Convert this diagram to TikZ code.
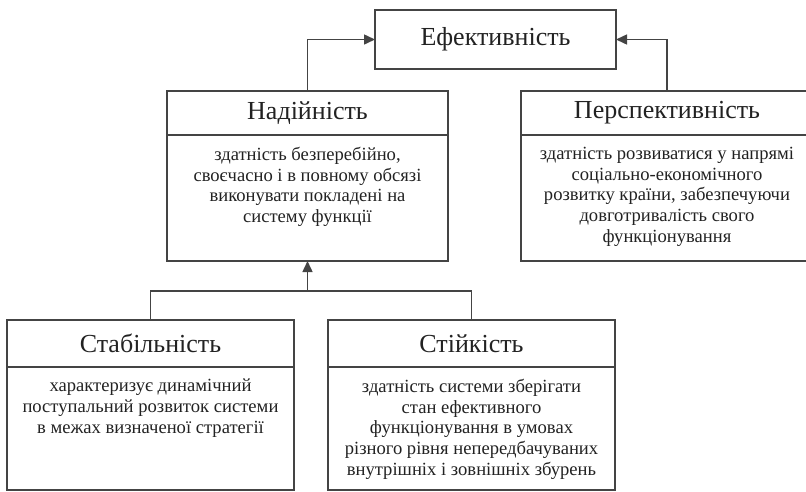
\documentclass[tikz,border=0pt]{standalone}
\usepackage{fontspec}
\setmainfont{Liberation Serif}
\usetikzlibrary{arrows.meta,positioning}

\definecolor{linegray}{HTML}{444444}
\definecolor{textgray}{HTML}{222222}
\newcommand{\titlefont}{\fontsize{26}{30}\selectfont}
\newcommand{\bodyfont}{\fontsize{18.6}{20.7}\selectfont}
\newcommand{\bodytext}[3]{\parbox[t][#1][t]{#2}{\centering\vspace*{12pt}#3}}

\tikzset{
  box/.style={draw=linegray, line width=1.5pt, outer sep=0pt, inner sep=0pt,
    text=textgray, font=\titlefont},
  body/.style={draw=linegray, line width=1.5pt, outer sep=0pt, inner sep=0pt,
    text=textgray, font=\bodyfont},
  arr/.style={draw=linegray, line width=1.5pt, -{Triangle[length=11pt,width=10pt]}},
  link/.style={draw=linegray, line width=1.5pt},
}

\begin{document}
\begin{tikzpicture}[x=1pt, y=-1pt]
  \useasboundingbox (0,0) rectangle (806,491);
  % top
  \node[box, minimum width=241pt, minimum height=59pt] (ef) at (495.5,39.5) {Ефективність};
  % middle row
  \node[box, minimum width=281pt, minimum height=44pt] (nad) at (307.5,113) {Надійність};
  \node[body, below=0pt of nad] (nadb) {\bodytext{126pt}{281pt}{здатність безперебійно,\\
    своєчасно і в повному обсязі\\ виконувати покладені на\\ систему функції}};
  \node[box, minimum width=292pt, minimum height=44pt] (per) at (667,113) {Перспективність};
  \node[body, below=0pt of per] (perb) {\bodytext{126pt}{292pt}{здатність розвиватися у напрямі\\
    соціально-економічного\\ розвитку країни, забезпечуючи\\ довготривалість свого\\ функціонування}};
  % bottom row
  \node[box, minimum width=287pt, minimum height=47pt] (stab) at (150.5,343.5) {Стабільність};
  \node[body, below=0pt of stab] (stabb) {\bodytext{123pt}{287pt}{характеризує динамічний\\
    поступальний розвиток системи\\ в межах визначеної стратегії}};
  \node[box, minimum width=287pt, minimum height=47pt] (stiy) at (471.5,343.5) {Стійкість};
  \node[body, below=0pt of stiy] (stiyb) {\bodytext{123pt}{287pt}{здатність системи зберігати\\
    стан ефективного\\ функціонування в умовах\\ різного рівня непередбачуваних\\
    внутрішніх і зовнішніх збурень}};
  % connectors
  \draw[arr] (nad.north) |- (ef.west);
  \draw[arr] (per.north) |- (ef.east);
  \coordinate (join) at (307.5,291);
  \draw[link] (stab.north) |- (join) -| (stiy.north);
  \draw[arr] (join) -- (nadb.south);
\end{tikzpicture}
\end{document}
